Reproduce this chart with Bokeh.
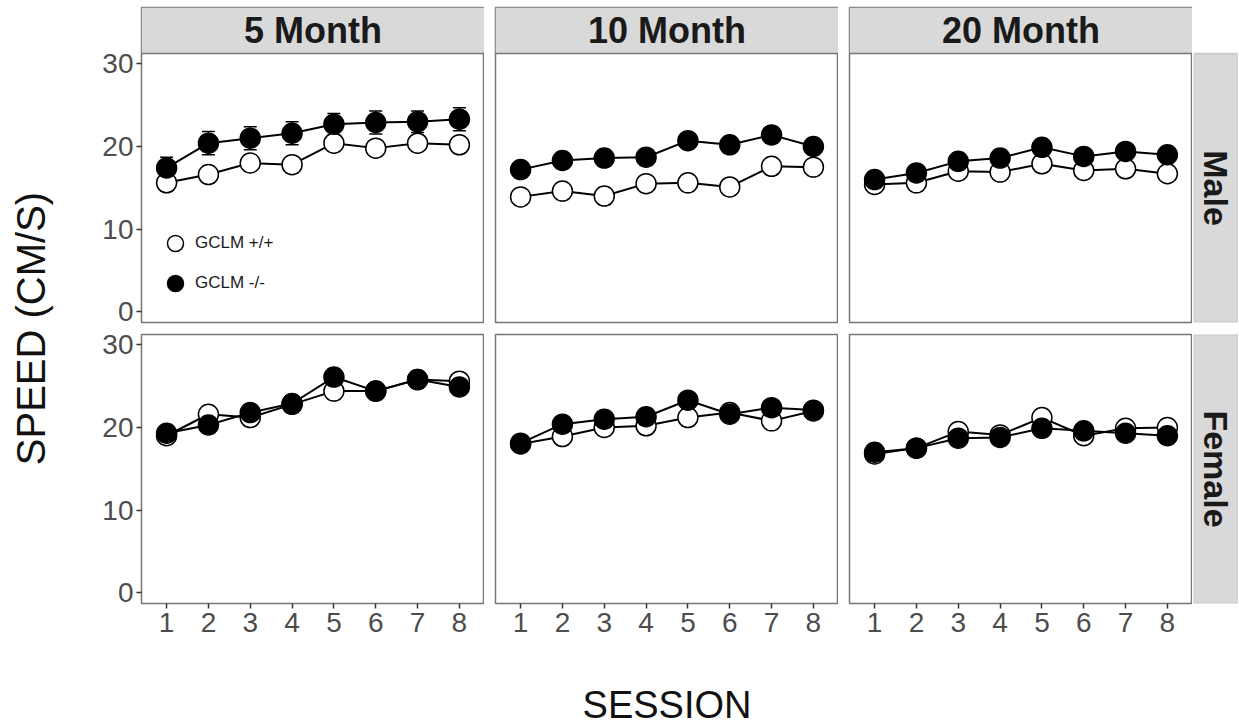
import math
from bokeh.plotting import figure
from bokeh.layouts import row, column
from bokeh.models import (Range1d, FixedTicker, ColumnDataSource, Whisker, TeeHead,
                          Legend, LegendItem, BoxAnnotation, Span, Label, Spacer)
from bokeh.core.properties import value
from bokeh.embed import file_html
from bokeh.resources import INLINE

# ---------------- data ----------------
sessions = [1, 2, 3, 4, 5, 6, 7, 8]
ages = ["5 Month", "10 Month", "20 Month"]
sexes = ["Male", "Female"]
genotypes = ["GCLM +/+", "GCLM -/-"]
y_ticks = [0, 10, 20, 30]

# GCLM +/+ (open circles)
wt_male_5 = [15.6, 16.6, 18.0, 17.8, 20.4, 19.8, 20.4, 20.2]
wt_male_10 = [13.9, 14.6, 14.0, 15.5, 15.6, 15.1, 17.6, 17.5]
wt_male_20 = [15.4, 15.6, 17.0, 16.9, 17.9, 17.1, 17.3, 16.7]
wt_female_5 = [19.0, 21.6, 21.2, 22.8, 24.4, 24.4, 25.8, 25.6]
wt_female_10 = [18.0, 18.9, 20.0, 20.2, 21.2, 21.8, 20.8, 22.0]
wt_female_20 = [16.8, 17.5, 19.5, 19.1, 21.2, 19.0, 19.9, 20.0]

# GCLM -/- (filled circles)
ko_male_5 = [17.4, 20.4, 21.0, 21.6, 22.7, 22.9, 23.0, 23.3]
ko_male_10 = [17.2, 18.3, 18.6, 18.7, 20.7, 20.2, 21.4, 20.0]
ko_male_20 = [16.0, 16.8, 18.2, 18.6, 19.9, 18.8, 19.4, 19.0]
ko_female_5 = [19.3, 20.3, 21.8, 22.9, 26.1, 24.4, 25.8, 24.9]
ko_female_10 = [18.1, 20.4, 21.0, 21.3, 23.3, 21.6, 22.4, 22.1]
ko_female_20 = [17.0, 17.5, 18.7, 18.8, 19.9, 19.6, 19.3, 19.0]

# standard errors
wt_male_5_se = [0.9, 0.8, 0.9, 0.9, 0.8, 0.9, 0.8, 0.9]
wt_male_10_se = [0.8, 0.9, 0.8, 0.9, 0.9, 0.8, 0.9, 0.8]
wt_male_20_se = [0.8, 0.8, 0.9, 0.8, 0.9, 0.8, 0.8, 0.9]
wt_female_5_se = [0.9, 0.9, 0.8, 0.9, 0.9, 0.8, 0.9, 0.9]
wt_female_10_se = [0.8, 0.9, 0.8, 0.9, 0.9, 0.8, 0.9, 0.8]
wt_female_20_se = [0.8, 0.8, 0.9, 0.8, 0.9, 0.8, 0.8, 0.9]
ko_male_5_se = [1.3, 1.4, 1.4, 1.4, 1.3, 1.4, 1.3, 1.4]
ko_male_10_se = [0.9, 0.8, 0.9, 0.9, 0.9, 0.8, 1.0, 0.9]
ko_male_20_se = [0.8, 0.9, 0.8, 0.9, 0.9, 0.8, 0.9, 0.8]
ko_female_5_se = [0.9, 0.8, 0.9, 0.9, 0.9, 0.8, 0.9, 0.9]
ko_female_10_se = [0.8, 0.9, 0.8, 0.9, 0.9, 0.8, 0.9, 0.8]
ko_female_20_se = [0.8, 0.8, 0.9, 0.8, 0.9, 0.8, 0.8, 0.9]

wt = {("Male", 0): wt_male_5, ("Male", 1): wt_male_10, ("Male", 2): wt_male_20,
      ("Female", 0): wt_female_5, ("Female", 1): wt_female_10, ("Female", 2): wt_female_20}
ko = {("Male", 0): ko_male_5, ("Male", 1): ko_male_10, ("Male", 2): ko_male_20,
      ("Female", 0): ko_female_5, ("Female", 1): ko_female_10, ("Female", 2): ko_female_20}
wt_se = {("Male", 0): wt_male_5_se, ("Male", 1): wt_male_10_se, ("Male", 2): wt_male_20_se,
         ("Female", 0): wt_female_5_se, ("Female", 1): wt_female_10_se, ("Female", 2): wt_female_20_se}
ko_se = {("Male", 0): ko_male_5_se, ("Male", 1): ko_male_10_se, ("Male", 2): ko_male_20_se,
         ("Female", 0): ko_female_5_se, ("Female", 1): ko_female_10_se, ("Female", 2): ko_female_20_se}

# ---------------- geometry / style ----------------
FW, FH = 343, 269
GAP_X, HALF_GAP_Y = 11, 6
TOP_PAD, STRIP_H, STRIP_W = 7, 46, 45
AXIS_W, BOTTOM_AXIS = 55, 58
YTITLE_W, XTITLE_H = 86, 65
FONT = "Liberation Sans"
STRIP_FILL = "#D9D9D9"
BORDER = "#767676"
TICK_LABEL = "#4D4D4D"
X0, X1 = 0.4, 8.6
Y0, Y1 = -1.3, 31.25
PX_PER_UNIT = FH / (Y1 - Y0)
STRIP_UNITS = STRIP_H / PX_PER_UNIT


def base_fig(fw, fh, left=0, bottom=0, right=0, top=0, **kw):
    p = figure(frame_width=fw, frame_height=fh, output_backend="svg", toolbar_location=None,
               min_border_left=left, min_border_right=right, min_border_top=top,
               min_border_bottom=bottom, **kw)
    p.xgrid.visible = False
    p.ygrid.visible = False
    p.border_fill_color = "white"
    return p


def style_axis(ax, standoff):
    ax.axis_line_color = None
    ax.major_tick_out = 5
    ax.major_tick_in = 0
    ax.minor_tick_out = 0
    ax.minor_tick_in = 0
    ax.major_tick_line_color = "#333333"
    ax.major_tick_line_width = 1.5
    ax.major_label_text_font = FONT
    ax.major_label_text_font_size = "28px"
    ax.major_label_text_color = TICK_LABEL
    ax.major_label_standoff = standoff


panels = {}
legend_renderers = {}
for r, sex in enumerate(sexes):
    for c in range(3):
        top_row = r == 0
        p = base_fig(FW, FH + STRIP_H if top_row else FH,
                     left=AXIS_W if c == 0 else GAP_X,
                     top=TOP_PAD if top_row else HALF_GAP_Y,
                     bottom=HALF_GAP_Y if top_row else BOTTOM_AXIS,
                     x_range=Range1d(X0, X1),
                     y_range=Range1d(Y0, Y1 + STRIP_UNITS) if top_row else Range1d(Y0, Y1),
                     x_axis_location=None if top_row else "below",
                     y_axis_location="left" if c == 0 else None)
        p.background_fill_color = "white"
        p.outline_line_color = BORDER
        p.outline_line_width = 1.5
        if c == 0:
            p.yaxis.ticker = FixedTicker(ticks=y_ticks)
            style_axis(p.yaxis[0], 3)
        if not top_row:
            p.xaxis.ticker = FixedTicker(ticks=sessions)
            style_axis(p.xaxis[0], 4)
        if top_row:
            # facet strip on top of the panel
            p.add_layout(BoxAnnotation(bottom=Y1, fill_color=STRIP_FILL, fill_alpha=1.0,
                                       line_color=None, level="underlay"))
            p.add_layout(Span(location=Y1, dimension="width", line_color=BORDER, line_width=1.5))
            p.add_layout(Label(x=(X0 + X1) / 2, y=Y1 + STRIP_UNITS / 2, text=ages[c],
                               text_align="center", text_baseline="middle",
                               text_font=FONT, text_font_style="bold",
                               text_font_size="36px", text_color="#1A1A1A"))

        key = (sex, c)
        for vals, se in ((wt[key], wt_se[key]), (ko[key], ko_se[key])):
            src = ColumnDataSource(dict(x=sessions,
                                        upper=[v + s for v, s in zip(vals, se)],
                                        lower=[v - s for v, s in zip(vals, se)]))
            w = Whisker(base="x", upper="upper", lower="lower", source=src, dimension="height",
                        level="underlay", line_color="black", line_width=1.5,
                        upper_head=TeeHead(size=13, line_color="black", line_width=1.5),
                        lower_head=TeeHead(size=13, line_color="black", line_width=1.5))
            p.add_layout(w)
        p.line(sessions, wt[key], line_color="black", line_width=2)
        p.line(sessions, ko[key], line_color="black", line_width=2)
        r_open = p.scatter(sessions, wt[key], marker="circle", size=20,
                           fill_color="white", line_color="black", line_width=1.5)
        r_fill = p.scatter(sessions, ko[key], marker="circle", size=20,
                           fill_color="black", line_color="black", line_width=1.5)
        panels[(r, c)] = p
        legend_renderers[(r, c)] = (r_open, r_fill)

# legend in first panel
p0 = panels[(0, 0)]
r_open, r_fill = legend_renderers[(0, 0)]
legend = Legend(items=[LegendItem(label=genotypes[0], renderers=[r_open]),
                       LegendItem(label=genotypes[1], renderers=[r_fill])],
                location=(14, 19), glyph_width=40, glyph_height=40, spacing=0,
                padding=0, margin=0, label_standoff=0,
                background_fill_alpha=0, border_line_color=None,
                label_text_font=FONT, label_text_font_size="17px", label_text_color="#1A1A1A")
p0.add_layout(legend)

# right strips (same borders as the panels of their row, so frames line up)
rstrips = []
for r, sex in enumerate(sexes):
    top_row = r == 0
    fh = FH + STRIP_H if top_row else FH
    s = base_fig(STRIP_W, fh, left=1,
                 top=TOP_PAD if top_row else HALF_GAP_Y,
                 bottom=HALF_GAP_Y if top_row else BOTTOM_AXIS,
                 x_range=Range1d(0, STRIP_W), y_range=Range1d(0, fh),
                 x_axis_location=None, y_axis_location=None)
    s.background_fill_color = "white"
    s.outline_line_color = None
    s.add_layout(BoxAnnotation(left=0, right=STRIP_W, bottom=0, top=FH,
                               fill_color=STRIP_FILL, fill_alpha=1.0,
                               line_color=BORDER, line_width=1.5, level="underlay"))
    s.text(x=[STRIP_W / 2], y=[FH / 2], text=[sex], angle=-math.pi / 2, text_align="center",
           text_baseline="middle", text_font=value(FONT), text_font_style="bold",
           text_font_size="34px", text_color="#1A1A1A")
    rstrips.append(s)

# y title (spans both panel rows)
yh = (TOP_PAD + STRIP_H + FH + HALF_GAP_Y) + (HALF_GAP_Y + FH + BOTTOM_AXIS)
yt = base_fig(YTITLE_W, yh,
              x_range=Range1d(0, YTITLE_W), y_range=Range1d(0, yh),
              x_axis_location=None, y_axis_location=None)
yt.outline_line_color = None
y_center_from_top = (TOP_PAD + STRIP_H + (TOP_PAD + STRIP_H + 2 * FH + 2 * HALF_GAP_Y)) / 2
yt.text(x=[30], y=[yh - y_center_from_top], text=["SPEED (CM/S)"], angle=math.pi / 2,
        text_align="center", text_baseline="middle", text_font=value(FONT),
        text_font_size="40px", text_color="#111111")

# x title (spans the three panel columns)
xw = 3 * FW + 2 * GAP_X
xt = base_fig(xw, XTITLE_H, left=AXIS_W,
              x_range=Range1d(0, xw), y_range=Range1d(0, XTITLE_H),
              x_axis_location=None, y_axis_location=None)
xt.outline_line_color = None
xt.text(x=[xw / 2], y=[22], text=["SESSION"], text_align="center", text_baseline="middle",
        text_font=value(FONT), text_font_size="38px", text_color="#111111")

top_row_layout = row(panels[(0, 0)], panels[(0, 1)], panels[(0, 2)], rstrips[0], spacing=0)
bot_row_layout = row(panels[(1, 0)], panels[(1, 1)], panels[(1, 2)], rstrips[1], spacing=0)
main = row(yt, column(top_row_layout, bot_row_layout, spacing=0), spacing=0)
bottom = row(Spacer(width=YTITLE_W, height=XTITLE_H), xt, spacing=0)
root = column(main, bottom, spacing=0)

open("out.html", "w").write(file_html(root, INLINE))
